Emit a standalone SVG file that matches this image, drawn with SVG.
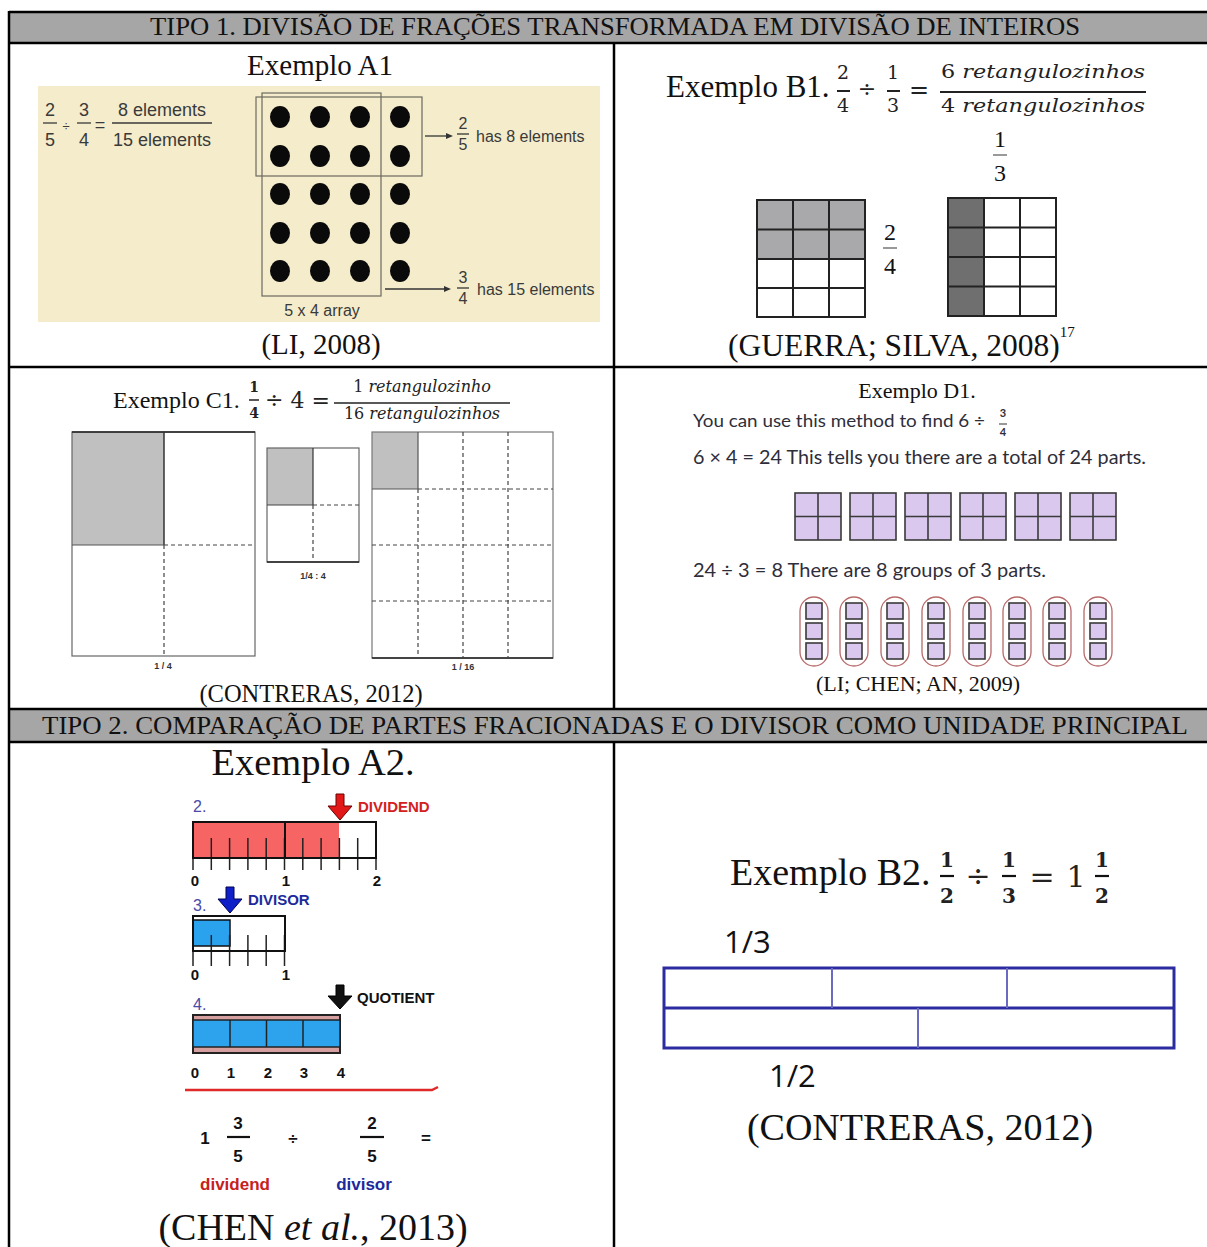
<svg xmlns="http://www.w3.org/2000/svg" width="1207" height="1247" viewBox="0 0 1207 1247">
<style>
.serif{font-family:"Liberation Serif","Times New Roman",serif;fill:#111}
.sans{font-family:"Liberation Sans",Arial,sans-serif}
.math{font-family:"DejaVu Serif","Liberation Serif",serif;fill:#222}
.mi{font-family:"DejaVu Serif","Liberation Serif",serif;font-style:italic;fill:#222}
.gill{font-family:"Lato","Liberation Sans",sans-serif;fill:#2e2e3a}
.cal{font-family:"Open Sans","Liberation Sans",sans-serif;fill:#111}
.grid{fill:none;stroke:#222;stroke-width:2}
.dash{stroke:#444;stroke-width:1.2;stroke-dasharray:4,3;fill:none}
.lav{fill:#dac8ee;stroke:#3a3a3a;stroke-width:1.6}
.oval{fill:none;stroke:#b86a6a;stroke-width:1.3}
.tick{stroke:#222;stroke-width:1.5}
.bar{stroke:#222;stroke-width:1.5}
</style>

<rect x="0" y="0" width="1207" height="1247" fill="#fff"/>

<g id="table">
  <rect x="9" y="12" width="1200" height="32" fill="#a6a6a6"/>
  <rect x="9" y="710" width="1200" height="32" fill="#a6a6a6"/>
  <g stroke="#000" stroke-width="2.5" fill="none">
    <line x1="9" y1="12" x2="1207" y2="12"/>
    <line x1="9" y1="43" x2="1207" y2="43"/>
    <line x1="9" y1="367" x2="1207" y2="367"/>
    <line x1="9" y1="709" x2="1207" y2="709"/>
    <line x1="9" y1="742" x2="1207" y2="742"/>
    <line x1="9" y1="11" x2="9" y2="1247"/>
    <line x1="614" y1="43" x2="614" y2="709"/>
    <line x1="614" y1="742" x2="614" y2="1247"/>
  </g>
  <text class="serif" x="150" y="35" font-size="26" textLength="930" lengthAdjust="spacingAndGlyphs">TIPO 1. DIVISÃO DE FRAÇÕES TRANSFORMADA EM DIVISÃO DE INTEIROS</text>
  <text class="serif" x="42" y="734" font-size="26" textLength="1146" lengthAdjust="spacingAndGlyphs">TIPO 2. COMPARAÇÃO DE PARTES FRACIONADAS E O DIVISOR COMO UNIDADE PRINCIPAL</text>
</g>

<g id="exemploA1">
  <text class="serif" x="320" y="75" font-size="29" text-anchor="middle">Exemplo A1</text>
  <rect x="38" y="86" width="562" height="236" fill="#f4ecca"/>
  <g class="sans" fill="#3a3a3a" font-size="18">
    <text x="50" y="116" text-anchor="middle">2</text>
    <text x="50" y="146" text-anchor="middle">5</text>
    <text x="66" y="131" text-anchor="middle" font-size="13">÷</text>
    <text x="84" y="116" text-anchor="middle">3</text>
    <text x="84" y="146" text-anchor="middle">4</text>
    <text x="100" y="131" text-anchor="middle">=</text>
    <text x="162" y="116" text-anchor="middle">8 elements</text>
    <text x="162" y="146" text-anchor="middle">15 elements</text>
  </g>
  <g stroke="#3a3a3a" stroke-width="1.3">
    <line x1="43" y1="123" x2="57" y2="123"/>
    <line x1="77" y1="123" x2="91" y2="123"/>
    <line x1="112" y1="123" x2="212" y2="123"/>
  </g>
  <g fill="#0a0a0a">
    <ellipse cx="280" cy="117" rx="10" ry="11"/><ellipse cx="320" cy="117" rx="10" ry="11"/><ellipse cx="360" cy="117" rx="10" ry="11"/><ellipse cx="400" cy="117" rx="10" ry="11"/>
    <ellipse cx="280" cy="156" rx="10" ry="11"/><ellipse cx="320" cy="156" rx="10" ry="11"/><ellipse cx="360" cy="156" rx="10" ry="11"/><ellipse cx="400" cy="156" rx="10" ry="11"/>
    <ellipse cx="280" cy="194" rx="10" ry="11"/><ellipse cx="320" cy="194" rx="10" ry="11"/><ellipse cx="360" cy="194" rx="10" ry="11"/><ellipse cx="400" cy="194" rx="10" ry="11"/>
    <ellipse cx="280" cy="233" rx="10" ry="11"/><ellipse cx="320" cy="233" rx="10" ry="11"/><ellipse cx="360" cy="233" rx="10" ry="11"/><ellipse cx="400" cy="233" rx="10" ry="11"/>
    <ellipse cx="280" cy="271" rx="10" ry="11"/><ellipse cx="320" cy="271" rx="10" ry="11"/><ellipse cx="360" cy="271" rx="10" ry="11"/><ellipse cx="400" cy="271" rx="10" ry="11"/>
  </g>
  <rect x="256" y="97" width="166" height="79" fill="none" stroke="#6a6a60" stroke-width="1.2"/>
  <rect x="262" y="93" width="119" height="203" fill="none" stroke="#6a6a60" stroke-width="1.2"/>
  <g stroke="#333" stroke-width="1.3" fill="#333">
    <line x1="425" y1="136" x2="446" y2="136"/>
    <polygon points="446,133 453,136 446,139" stroke="none"/>
    <line x1="385" y1="289" x2="444" y2="289"/>
    <polygon points="444,286 451,289 444,292" stroke="none"/>
    <line x1="457" y1="134" x2="469" y2="134"/>
    <line x1="457" y1="288" x2="469" y2="288"/>
  </g>
  <g class="sans" fill="#3a3a3a" font-size="16">
    <text x="463" y="129" text-anchor="middle">2</text>
    <text x="463" y="150" text-anchor="middle">5</text>
    <text x="476" y="142">has 8 elements</text>
    <text x="463" y="283" text-anchor="middle">3</text>
    <text x="463" y="304" text-anchor="middle">4</text>
    <text x="477" y="295">has 15 elements</text>
    <text x="322" y="316" text-anchor="middle">5 x 4 array</text>
  </g>
  <text class="serif" x="321" y="354" font-size="29" text-anchor="middle">(LI, 2008)</text>
</g>

<g id="exemploB1">
  <text class="serif" x="666" y="97" font-size="31">Exemplo B1.</text>
  <g class="math" font-size="19" text-anchor="middle">
    <text x="843" y="79">2</text><text x="843" y="112">4</text>
    <text x="867" y="97" font-size="22">÷</text>
    <text x="893" y="79">1</text><text x="893" y="112">3</text>
    <text x="919" y="98" font-size="24">=</text>
  </g>
  <g class="mi" font-size="19">
    <text x="941" y="78" textLength="204" lengthAdjust="spacingAndGlyphs"><tspan font-style="normal">6</tspan> retangulozinhos</text>
    <text x="941" y="112" textLength="204" lengthAdjust="spacingAndGlyphs"><tspan font-style="normal">4</tspan> retangulozinhos</text>
  </g>
  <g stroke="#222" stroke-width="2">
    <line x1="837" y1="91" x2="850" y2="91"/>
    <line x1="887" y1="91" x2="900" y2="91"/>
    <line x1="940" y1="92" x2="1146" y2="92"/>
  </g>
  <g class="serif" fill="#444" font-size="24" text-anchor="middle">
    <text x="1000" y="147">1</text><text x="1000" y="181">3</text>
    <text x="890" y="240">2</text><text x="890" y="274">4</text>
  </g>
  <g stroke="#555" stroke-width="1.2">
    <line x1="993" y1="155" x2="1007" y2="155"/>
    <line x1="883" y1="248" x2="897" y2="248"/>
  </g>
  <rect x="757" y="200" width="108" height="59" fill="#a9a9ab"/>
  <g class="grid">
    <rect x="757" y="200" width="108" height="117"/>
    <line x1="793" y1="200" x2="793" y2="317"/><line x1="829" y1="200" x2="829" y2="317"/>
    <line x1="757" y1="229.5" x2="865" y2="229.5"/><line x1="757" y1="259" x2="865" y2="259"/><line x1="757" y1="288" x2="865" y2="288"/>
  </g>
  <rect x="948" y="198" width="36" height="118" fill="#6f6f6f"/>
  <g class="grid">
    <rect x="948" y="198" width="108" height="118"/>
    <line x1="984" y1="198" x2="984" y2="316"/><line x1="1020" y1="198" x2="1020" y2="316"/>
    <line x1="948" y1="227.5" x2="1056" y2="227.5"/><line x1="948" y1="257" x2="1056" y2="257"/><line x1="948" y1="286.5" x2="1056" y2="286.5"/>
  </g>
  <text class="serif" x="728" y="356" font-size="31.5">(GUERRA; SILVA, 2008)<tspan font-size="15" dy="-19">17</tspan></text>
</g>

<g id="exemploC1">
  <text class="serif" x="113" y="408" font-size="24">Exemplo C1.</text>
  <g class="math" font-size="14" text-anchor="middle" font-weight="bold">
    <text x="254" y="392">1</text><text x="254" y="418">4</text>
  </g>
  <line x1="249" y1="400" x2="259" y2="400" stroke="#222" stroke-width="1.5"/>
  <text class="math" x="265" y="408" font-size="22">÷ 4 =</text>
  <g class="mi" font-size="16" text-anchor="middle">
    <text x="422" y="392"><tspan font-style="normal">1</tspan> retangulozinho</text>
    <text x="422" y="419"><tspan font-style="normal">16</tspan> retangulozinhos</text>
  </g>
  <line x1="334" y1="403" x2="510" y2="403" stroke="#222" stroke-width="1.5"/>
  <rect x="72" y="432" width="92" height="113" fill="#c0c0c0"/>
  <rect x="72" y="432" width="183" height="224" fill="none" stroke="#666" stroke-width="1.2"/>
  <line x1="72" y1="432" x2="255" y2="432" stroke="#222" stroke-width="1.5"/>
  <line x1="164" y1="432" x2="164" y2="545" stroke="#333" stroke-width="1.5"/>
  <line x1="72" y1="545" x2="164" y2="545" stroke="#555" stroke-width="1.2"/>
  <line class="dash" x1="164" y1="545" x2="164" y2="656"/>
  <line class="dash" x1="164" y1="545" x2="255" y2="545"/>
  <text class="sans" x="163" y="669" font-size="9" font-weight="bold" fill="#333" text-anchor="middle">1 / 4</text>

  <rect x="267" y="448" width="46" height="57" fill="#c0c0c0"/>
  <rect x="267" y="448" width="92" height="114" fill="none" stroke="#666" stroke-width="1.2"/>
  <line x1="267" y1="562" x2="359" y2="562" stroke="#222" stroke-width="1.5"/>
  <line x1="313" y1="448" x2="313" y2="505" stroke="#333" stroke-width="1.2"/>
  <line x1="267" y1="505" x2="313" y2="505" stroke="#444" stroke-width="1.2"/>
  <line class="dash" x1="313" y1="505" x2="313" y2="562"/>
  <line class="dash" x1="313" y1="505" x2="359" y2="505"/>
  <text class="sans" x="313" y="579" font-size="9" font-weight="bold" fill="#333" text-anchor="middle">1/4 : 4</text>

  <rect x="372" y="432" width="46" height="57" fill="#c0c0c0"/>
  <rect x="372" y="432" width="181" height="226" fill="none" stroke="#777" stroke-width="1.2"/>
  <line x1="372" y1="658" x2="553" y2="658" stroke="#222" stroke-width="1.5"/>
  <line x1="418" y1="432" x2="418" y2="489" stroke="#555" stroke-width="1.2"/>
  <line x1="372" y1="489" x2="418" y2="489" stroke="#555" stroke-width="1.2"/>
  <line class="dash" x1="418" y1="489" x2="418" y2="658"/>
  <line class="dash" x1="463" y1="432" x2="463" y2="658"/>
  <line class="dash" x1="508" y1="432" x2="508" y2="658"/>
  <line class="dash" x1="418" y1="489" x2="553" y2="489"/>
  <line class="dash" x1="372" y1="545" x2="553" y2="545"/>
  <line class="dash" x1="372" y1="601" x2="553" y2="601"/>
  <text class="sans" x="463" y="670" font-size="9" font-weight="bold" fill="#333" text-anchor="middle">1 / 16</text>
  <text class="serif" x="311" y="702" font-size="24.5" text-anchor="middle">(CONTRERAS, 2012)</text>
</g>

<g id="exemploD1">
  <text class="serif" x="917" y="398" font-size="22" text-anchor="middle">Exemplo D1.</text>
  <text class="gill" x="693" y="427" font-size="18" textLength="292" lengthAdjust="spacingAndGlyphs">You can use this method to find 6 ÷</text>
  <g class="gill" font-size="11" font-weight="bold" text-anchor="middle">
    <text x="1003" y="417">3</text><text x="1003" y="436">4</text>
  </g>
  <line x1="999" y1="424" x2="1007" y2="424" stroke="#333" stroke-width="1"/>
  <text class="gill" x="693" y="464" font-size="19" textLength="453" lengthAdjust="spacingAndGlyphs">6 × 4 = 24  This tells you there are a total of 24 parts.</text>
  <g id="d1squares">
    <g class="lav">
      <rect x="795" y="493" width="46" height="47"/><rect x="850" y="493" width="46" height="47"/><rect x="905" y="493" width="46" height="47"/>
      <rect x="960" y="493" width="46" height="47"/><rect x="1015" y="493" width="46" height="47"/><rect x="1070" y="493" width="46" height="47"/>
    </g>
    <g stroke="#3a3a3a" stroke-width="1.6">
      <line x1="818" y1="493" x2="818" y2="540"/><line x1="795" y1="516.5" x2="841" y2="516.5"/>
      <line x1="873" y1="493" x2="873" y2="540"/><line x1="850" y1="516.5" x2="896" y2="516.5"/>
      <line x1="928" y1="493" x2="928" y2="540"/><line x1="905" y1="516.5" x2="951" y2="516.5"/>
      <line x1="983" y1="493" x2="983" y2="540"/><line x1="960" y1="516.5" x2="1006" y2="516.5"/>
      <line x1="1038" y1="493" x2="1038" y2="540"/><line x1="1015" y1="516.5" x2="1061" y2="516.5"/>
      <line x1="1093" y1="493" x2="1093" y2="540"/><line x1="1070" y1="516.5" x2="1116" y2="516.5"/>
    </g>
  </g>
  <text class="gill" x="693" y="577" font-size="19" textLength="353" lengthAdjust="spacingAndGlyphs">24 ÷ 3 = 8  There are 8 groups of 3 parts.</text>
  <g id="d1groups">
    <g class="oval">
      <rect x="800" y="597" width="28" height="69" rx="14"/><rect x="840" y="597" width="28" height="69" rx="14"/>
      <rect x="881" y="597" width="28" height="69" rx="14"/><rect x="922" y="597" width="28" height="69" rx="14"/>
      <rect x="963" y="597" width="28" height="69" rx="14"/><rect x="1003" y="597" width="28" height="69" rx="14"/>
      <rect x="1043" y="597" width="28" height="69" rx="14"/><rect x="1084" y="597" width="28" height="69" rx="14"/>
    </g>
    <g class="lav" stroke-width="1.4">
      <rect x="806" y="603" width="16" height="16"/><rect x="806" y="623" width="16" height="16"/><rect x="806" y="643" width="16" height="16"/>
      <rect x="846" y="603" width="16" height="16"/><rect x="846" y="623" width="16" height="16"/><rect x="846" y="643" width="16" height="16"/>
      <rect x="887" y="603" width="16" height="16"/><rect x="887" y="623" width="16" height="16"/><rect x="887" y="643" width="16" height="16"/>
      <rect x="928" y="603" width="16" height="16"/><rect x="928" y="623" width="16" height="16"/><rect x="928" y="643" width="16" height="16"/>
      <rect x="969" y="603" width="16" height="16"/><rect x="969" y="623" width="16" height="16"/><rect x="969" y="643" width="16" height="16"/>
      <rect x="1009" y="603" width="16" height="16"/><rect x="1009" y="623" width="16" height="16"/><rect x="1009" y="643" width="16" height="16"/>
      <rect x="1049" y="603" width="16" height="16"/><rect x="1049" y="623" width="16" height="16"/><rect x="1049" y="643" width="16" height="16"/>
      <rect x="1090" y="603" width="16" height="16"/><rect x="1090" y="623" width="16" height="16"/><rect x="1090" y="643" width="16" height="16"/>
    </g>
  </g>
  <text class="serif" x="918" y="691" font-size="22" text-anchor="middle">(LI; CHEN; AN, 2009)</text>
</g>

<g id="exemploA2">
  <text class="serif" x="313" y="775" font-size="38.5" text-anchor="middle">Exemplo A2.</text>
  <g class="sans" font-size="16">
    <text x="193" y="812" fill="#4a4aa8">2.</text>
    <text x="193" y="911" fill="#4a4aa8">3.</text>
    <text x="193" y="1010" fill="#4a4aa8">4.</text>
  </g>
  <g class="sans" font-size="15" font-weight="bold">
    <text x="358" y="812" fill="#d42020">DIVIDEND</text>
    <text x="248" y="905" fill="#1c2a9c">DIVISOR</text>
    <text x="357" y="1003" fill="#111">QUOTIENT</text>
  </g>
  <polygon points="336,794 344,794 344,806 352,806 340,820 328,806 336,806" fill="#e21818" stroke="#6a0000" stroke-width="1"/>
  <polygon points="226,887 234,887 234,899 242,899 230,913 218,899 226,899" fill="#1020c8" stroke="#000050" stroke-width="1"/>
  <polygon points="336,985 344,985 344,996 352,996 340,1009 328,996 336,996" fill="#111" stroke="#000" stroke-width="1"/>

  <rect x="193" y="822" width="146" height="36" fill="#f76464"/>
  <g class="tick">
    <line x1="193" y1="838" x2="193" y2="870"/><line x1="211.3" y1="838" x2="211.3" y2="870"/><line x1="229.6" y1="838" x2="229.6" y2="870"/>
    <line x1="247.9" y1="838" x2="247.9" y2="870"/><line x1="266.2" y1="838" x2="266.2" y2="870"/><line x1="284.5" y1="838" x2="284.5" y2="870"/>
    <line x1="302.8" y1="838" x2="302.8" y2="870"/><line x1="321.1" y1="838" x2="321.1" y2="870"/><line x1="339.4" y1="838" x2="339.4" y2="870"/>
    <line x1="357.7" y1="838" x2="357.7" y2="870"/><line x1="376" y1="838" x2="376" y2="870"/>
  </g>
  <rect x="193" y="822" width="183" height="36" fill="none" stroke="#111" stroke-width="2"/>
  <line x1="285" y1="822" x2="285" y2="858" stroke="#111" stroke-width="2"/>
  <g class="sans" font-size="15" font-weight="bold" fill="#111" text-anchor="middle">
    <text x="195" y="886">0</text><text x="286" y="886">1</text><text x="377" y="886">2</text>
  </g>

  <rect x="193" y="920" width="37" height="26" fill="#2aa2ee" stroke="#111" stroke-width="1.5"/>
  <g class="tick">
    <line x1="193" y1="935" x2="193" y2="966"/><line x1="211.3" y1="935" x2="211.3" y2="966"/><line x1="229.6" y1="935" x2="229.6" y2="966"/>
    <line x1="247.9" y1="935" x2="247.9" y2="966"/><line x1="266.2" y1="935" x2="266.2" y2="966"/><line x1="284.5" y1="935" x2="284.5" y2="966"/>
  </g>
  <rect x="193" y="916" width="92" height="35" fill="none" stroke="#111" stroke-width="2"/>
  <g class="sans" font-size="15" font-weight="bold" fill="#111" text-anchor="middle">
    <text x="195" y="980">0</text><text x="286" y="980">1</text>
  </g>

  <rect x="193" y="1015" width="147" height="38" fill="#d7a0a0" stroke="#222" stroke-width="2"/>
  <rect x="193" y="1020" width="147" height="27" fill="#2da3ee" stroke="#222" stroke-width="1.5"/>
  <g class="bar">
    <line x1="230" y1="1020" x2="230" y2="1047"/><line x1="266.5" y1="1020" x2="266.5" y2="1047"/><line x1="303" y1="1020" x2="303" y2="1047"/>
  </g>
  <g class="sans" font-size="15" font-weight="bold" fill="#111" text-anchor="middle">
    <text x="195" y="1078">0</text><text x="231" y="1078">1</text><text x="268" y="1078">2</text><text x="304" y="1078">3</text><text x="341" y="1078">4</text>
  </g>
  <path d="M185,1090 L432,1090 L438,1087" fill="none" stroke="#e02a2a" stroke-width="2.5"/>
  <g class="sans" font-size="17" font-weight="bold" fill="#111" text-anchor="middle">
    <text x="205" y="1144">1</text>
    <text x="238" y="1129">3</text><text x="238" y="1162">5</text>
    <text x="293" y="1144">÷</text>
    <text x="372" y="1129">2</text><text x="372" y="1162">5</text>
    <text x="426" y="1144">=</text>
  </g>
  <g stroke="#111" stroke-width="2.2">
    <line x1="227" y1="1137" x2="250" y2="1137"/>
    <line x1="360" y1="1137" x2="384" y2="1137"/>
  </g>
  <g class="sans" font-size="17" font-weight="bold" text-anchor="middle">
    <text x="235" y="1190" fill="#c82020">dividend</text>
    <text x="364" y="1190" fill="#1c2a9c">divisor</text>
  </g>
  <text class="serif" x="313" y="1240" font-size="38" text-anchor="middle">(CHEN <tspan font-style="italic">et al.</tspan>, 2013)</text>
</g>

<g id="exemploB2">
  <text class="serif" x="730" y="885" font-size="38">Exemplo B2.</text>
  <g class="math" font-size="20" font-weight="bold" text-anchor="middle">
    <text x="947" y="867">1</text><text x="947" y="903">2</text>
    <text x="1009" y="867">1</text><text x="1009" y="903">3</text>
    <text x="1102" y="867">1</text><text x="1102" y="903">2</text>
  </g>
  <g stroke="#111" stroke-width="2.2">
    <line x1="940" y1="876" x2="954" y2="876"/>
    <line x1="1002" y1="876" x2="1016" y2="876"/>
    <line x1="1095" y1="876" x2="1109" y2="876"/>
  </g>
  <g class="math" font-size="30" text-anchor="middle">
    <text x="978" y="886">÷</text>
    <text x="1042" y="887">=</text>
    <text x="1076" y="887">1</text>
  </g>
  <text class="cal" x="724" y="953" font-size="31">1/3</text>
  <g stroke="#2c2ca0" fill="none">
    <rect x="664" y="968" width="510" height="80" stroke-width="3"/>
    <line x1="664" y1="1008" x2="1174" y2="1008" stroke-width="3"/>
    <line x1="832" y1="968" x2="832" y2="1008" stroke="#6a6ac0" stroke-width="2"/>
    <line x1="1007" y1="968" x2="1007" y2="1008" stroke="#6a6ac0" stroke-width="2"/>
    <line x1="918" y1="1008" x2="918" y2="1048" stroke="#6a6ac0" stroke-width="2"/>
  </g>
  <text class="cal" x="769" y="1087" font-size="31">1/2</text>
  <text class="serif" x="920" y="1140" font-size="38" text-anchor="middle">(CONTRERAS, 2012)</text>
</g>
</svg>
